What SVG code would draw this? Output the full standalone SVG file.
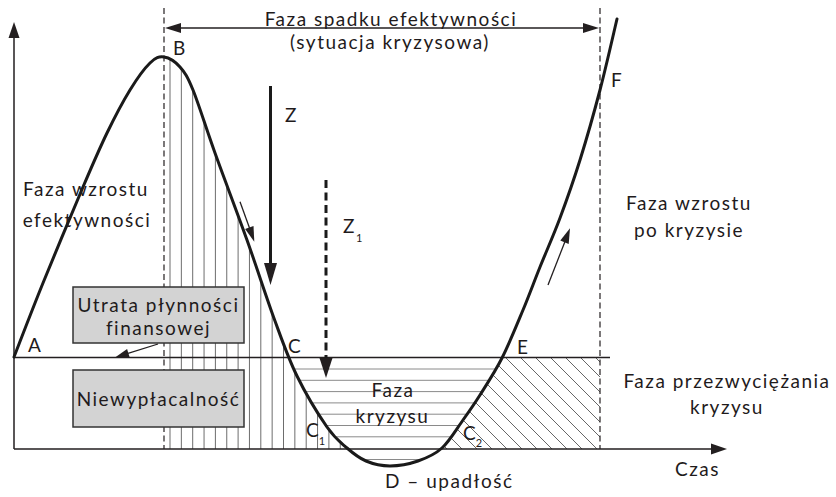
<svg xmlns="http://www.w3.org/2000/svg" width="836" height="497" viewBox="0 0 836 497">
<style>
text{font-family:Lato,"Open Sans","DejaVu Sans",sans-serif;font-size:19px;letter-spacing:1.5px;fill:#1f1b1c}
.ls0{letter-spacing:0}
.sub{font-size:11px;letter-spacing:0}
.mid{text-anchor:middle}
.ax{stroke:#231f20;stroke-width:1.5;fill:none}
.thin{stroke:#231f20;stroke-width:1.3;fill:none}
.dash{stroke:#231f20;stroke-width:1.2;stroke-dasharray:6 3.5;fill:none}
.hv{stroke:#6d6d6d;stroke-width:1;fill:none}
.hh{stroke:#8a8a8a;stroke-width:1;fill:none}
.hd{stroke:#555;stroke-width:0.9;fill:none}
.head{fill:#231f20;stroke:none}
.box{fill:#d3d3d3;stroke:#333;stroke-width:1.5}
</style>
<defs>
<clipPath id="clipV"><path d="M164,449 L164,57 C169,57.67 175.17,61.5 180,67 C184.83,72.5 187.17,75.67 193,90 C198.83,104.33 206,128 215,153 C224,178 237,212 247,240 C257,268 266.67,298.33 275,321 C283.33,343.67 288.33,358.33 297,376 C305.67,393.67 318.67,415 327,427 C335.33,439 340.5,442.33 347,448 L347,449 Z"/></clipPath>
<clipPath id="clipH"><path d="M247,240 C257,268 266.67,298.33 275,321 C283.33,343.67 288.33,358.33 297,376 C305.67,393.67 318.67,415 327,427 C335.33,439 340.5,442.33 347,448 C353.5,453.67 358.83,458 366,461 C373.17,464 381.33,466 390,466 C398.67,466 409.33,464 418,461 C426.67,458 434.5,454.83 442,448 C449.5,441.17 456.67,428.83 463,420 C469.33,411.17 473.5,405.33 480,395 C486.5,384.67 494.83,372.17 502,358 C509.17,343.83 516.67,325.17 523,310 Z"/></clipPath>
<clipPath id="clipD"><path d="M503,357 L600,357 L600,449 L442,449 L442,448 C449.5,441.17 456.67,428.83 463,420 C469.33,411.17 473.5,405.33 480,395 C486.5,384.67 494.83,372.17 502,358 Z"/></clipPath>
</defs>
<rect width="836" height="497" fill="#fff"/>

<g id="hatching">
<g clip-path="url(#clipV)" class="hv">
<path d="M170,40V449M181.35,40V449M192.7,40V449M204.05,40V449M215.4,40V449M226.75,40V449M238.1,40V449M249.45,40V449M260.8,40V449M272.15,40V449M283.5,40V449M294.85,40V449M306.2,40V449M317.55,40V449M328.9,40V449M340.25,40V449"/>
</g>
<g clip-path="url(#clipH)" class="hh">
<path d="M240,369H540M240,380.3H540M240,391.6H540M240,402.9H540M240,414.2H540M240,425.5H540M240,436.8H540M240,459.5H540"/>
</g>
<g clip-path="url(#clipD)" class="hd">
<path d="M355,357l92,92M370,357l92,92M385,357l92,92M400,357l92,92M415,357l92,92M430,357l92,92M445,357l92,92M460,357l92,92M475,357l92,92M490,357l92,92M505,357l92,92M520,357l92,92M535,357l92,92M550,357l92,92M565,357l92,92M580,357l92,92M595,357l92,92"/>
</g>
</g>

<g id="axes">
<path class="ax" d="M14,449V34M14,449H714"/>
<polygon class="head" points="14,22 8.5,38 19.5,38"/>
<polygon class="head" points="727,449 711,443.5 711,454.5"/>
<path class="thin" d="M14,357.5H610"/>
<path class="dash" d="M164,8V449M600,8V449"/>
</g>

<g id="node-utrata">
<rect class="box" x="73" y="287" width="171" height="56"/>
<text class="mid" x="158.5" y="311.5">Utrata płynności</text>
<text class="mid" x="158.5" y="335">finansowej</text>
</g>
<g id="node-niewyplacalnosc">
<rect class="box" x="73" y="370" width="171" height="57"/>
<text class="mid" x="158.5" y="406">Niewypłacalność</text>
</g>

<g id="curve">
<path fill="none" stroke="#1a1a1a" stroke-width="3" stroke-linecap="round" d="M14,357 C18.83,344.67 31.5,311.33 43,283 C54.5,254.67 72.33,212 83,187 C93.67,162 99.17,149.17 107,133 C114.83,116.83 122.83,101.67 130,90 C137.17,78.33 144.33,68.5 150,63 C155.67,57.5 159,56.33 164,57 C169,57.67 175.17,61.5 180,67 C184.83,72.5 187.17,75.67 193,90 C198.83,104.33 206,128 215,153 C224,178 237,212 247,240 C257,268 266.67,298.33 275,321 C283.33,343.67 288.33,358.33 297,376 C305.67,393.67 318.67,415 327,427 C335.33,439 340.5,442.33 347,448 C353.5,453.67 358.83,458 366,461 C373.17,464 381.33,466 390,466 C398.67,466 409.33,464 418,461 C426.67,458 434.5,454.83 442,448 C449.5,441.17 456.67,428.83 463,420 C469.33,411.17 473.5,405.33 480,395 C486.5,384.67 494.83,372.17 502,358 C509.17,343.83 516.67,325.17 523,310 C529.33,294.83 533.83,282.33 540,267 C546.17,251.67 553.33,235.83 560,218 C566.67,200.17 573.33,181.33 580,160 C586.67,138.67 593.83,113.5 600,90 C606.17,66.5 614.17,30.83 617,19"/>
</g>

<g id="connectors">
<path class="thin" d="M180,28H584"/>
<polygon class="head" points="165,28 181,23 181,33"/>
<polygon class="head" points="599,28 583,23 583,33"/>
<path stroke="#1a1a1a" stroke-width="3" d="M270.5,86V266"/>
<polygon class="head" points="270.5,285 264,263 277,263"/>
<path stroke="#1a1a1a" stroke-width="3" stroke-dasharray="8 4.5" d="M326,180V361"/>
<polygon class="head" points="326,378 319.5,358 332.5,358"/>
<path class="thin" d="M240,201.7L249.5,228"/>
<polygon class="head" points="254.3,241.7 253.5,226.1 245.1,229.1"/>
<path class="thin" d="M548,285L565,241.5"/>
<polygon class="head" points="570,228.3 568.7,243.9 560.3,240.6"/>
<path class="thin" d="M158,344L128,353.3"/>
<polygon class="head" points="115,357.5 129.7,357.6 127.1,349"/>
</g>

<g id="labels">
<text class="mid" x="391" y="25.5">Faza spadku efektywności</text>
<text class="mid" x="390" y="48.5">(sytuacja kryzysowa)</text>
<text x="173" y="55">B</text>
<text x="285" y="122">Z</text>
<text class="ls0" x="343" y="233">Z<tspan class="sub" dx="1.5" dy="9">1</tspan></text>
<text class="mid" x="86" y="196">Faza wzrostu</text>
<text class="mid" x="87" y="227">efektywności</text>
<text class="mid" x="689" y="210">Faza wzrostu</text>
<text class="mid" x="689" y="237">po kryzysie</text>
<text x="611" y="87">F</text>
<text x="28" y="352">A</text>
<text x="288" y="353">C</text>
<text x="517" y="354">E</text>
<text class="mid" x="393" y="397">Faza</text>
<text class="mid" x="392.5" y="423">kryzysu</text>
<text class="ls0" x="306" y="437">C<tspan class="sub" dx="0" dy="8">1</tspan></text>
<text class="ls0" x="463" y="440">C<tspan class="sub" dx="0" dy="7">2</tspan></text>
<text x="385" y="488">D – upadłość</text>
<text x="675" y="476">Czas</text>
<text class="mid" x="727" y="388">Faza przezwyciężania</text>
<text class="mid" x="727" y="414">kryzysu</text>
</g>
</svg>
